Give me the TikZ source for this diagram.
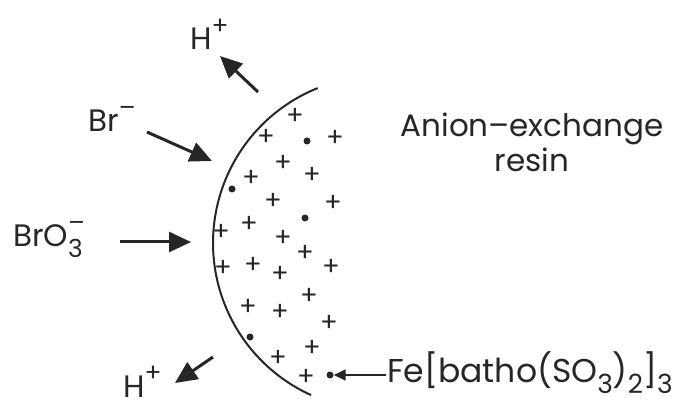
\documentclass[tikz,border=0pt]{standalone}
\usepackage{fontspec}
\setmainfont{Poppins}
\usetikzlibrary{arrows.meta}
\newcommand\mysup[1]{\raisebox{0.5em}{\scalebox{0.8}{#1}}}
\newcommand\mysub[1]{\raisebox{-0.35em}{\scalebox{0.8}{#1}}}
\newcommand\mysupsub[2]{\rlap{\raisebox{0.5em}{\scalebox{0.8}{#1}}}\raisebox{-0.35em}{\scalebox{0.8}{#2}}}
\begin{document}
\begin{tikzpicture}[x=1pt,y=-1pt,
  lbl/.style={inner sep=0pt, font=\fontsize{31}{35}\selectfont, text=black!85},
  plus/.style={inner sep=0pt, font=\fontsize{26}{26}\selectfont, text=black!85},
  dotc/.style={circle, fill=black!85, inner sep=0pt, minimum size=7pt},
  bigarrow/.style={line width=3pt, draw=black!85, -{Triangle[length=22pt,width=20pt]}},
  smallarrow/.style={line width=1.6pt, draw=black!85, -{Triangle[length=12pt,width=11pt]}}
]
\useasboundingbox (0,0) rectangle (694,406);
% resin surface
\draw[line width=2pt, black!85] plot[domain=111.9:245.6, samples=80] ({380+167*cos(\x)}, {243-167*sin(\x)});
% plus signs
\foreach \px/\py [count=\i] in {295/116,266/137,335/138,283/163,251/178,312/175,273/201,333/203,249/224,221/232,283/238,305/253,223/268,253/265,280/274,331/267,309/296,248/307,280/312,329/323,312/348,278/358,306/377}
  \node[plus] (p\i) at (\px,\py) {+};
% dots
\node[dotc] (d1) at (307,141) {};
\node[dotc] (d2) at (232,189) {};
\node[dotc] (d3) at (305,218) {};
\node[dotc] (d4) at (250,337) {};
\node[dotc] (d5) at (330,375) {};
% labels
\node[lbl, anchor=base west] (htop) at (190,50) {H\mysup{+}};
\node[lbl, anchor=base west] (br) at (88,132) {Br\mysup{–}};
\node[lbl, anchor=base west] (bro) at (13,247) {BrO\mysupsub{–}{3}};
\node[lbl, anchor=base west] (hbot) at (123,397) {H\mysup{+}};
\node[lbl, anchor=base west, font=\fontsize{33}{36}\selectfont] (fe) at (387,382) {Fe[batho(SO\mysub{3})\mysub{2}]\mysub{3}};
\node[lbl, align=center] (resin) at (532,142) {Anion–exchange\\resin};
% arrow coordinates
\coordinate (ht0) at (258,92);
\coordinate (ht1) at (220,56);
\coordinate (br0) at (147,132);
\coordinate (br1) at (212,161);
\coordinate (bo0) at (120,242);
\coordinate (bo1) at (191,242);
\coordinate (hb0) at (213,357);
\coordinate (hb1) at (175,383);
\coordinate (fe0) at (386,375);
% arrows
\draw[bigarrow] (ht0) -- (ht1);
\draw[bigarrow] (br0) -- (br1);
\draw[bigarrow] (bo0) -- (bo1);
\draw[bigarrow] (hb0) -- (hb1);
\draw[smallarrow] (fe0) -- (d5.east);
\end{tikzpicture}
\end{document}
